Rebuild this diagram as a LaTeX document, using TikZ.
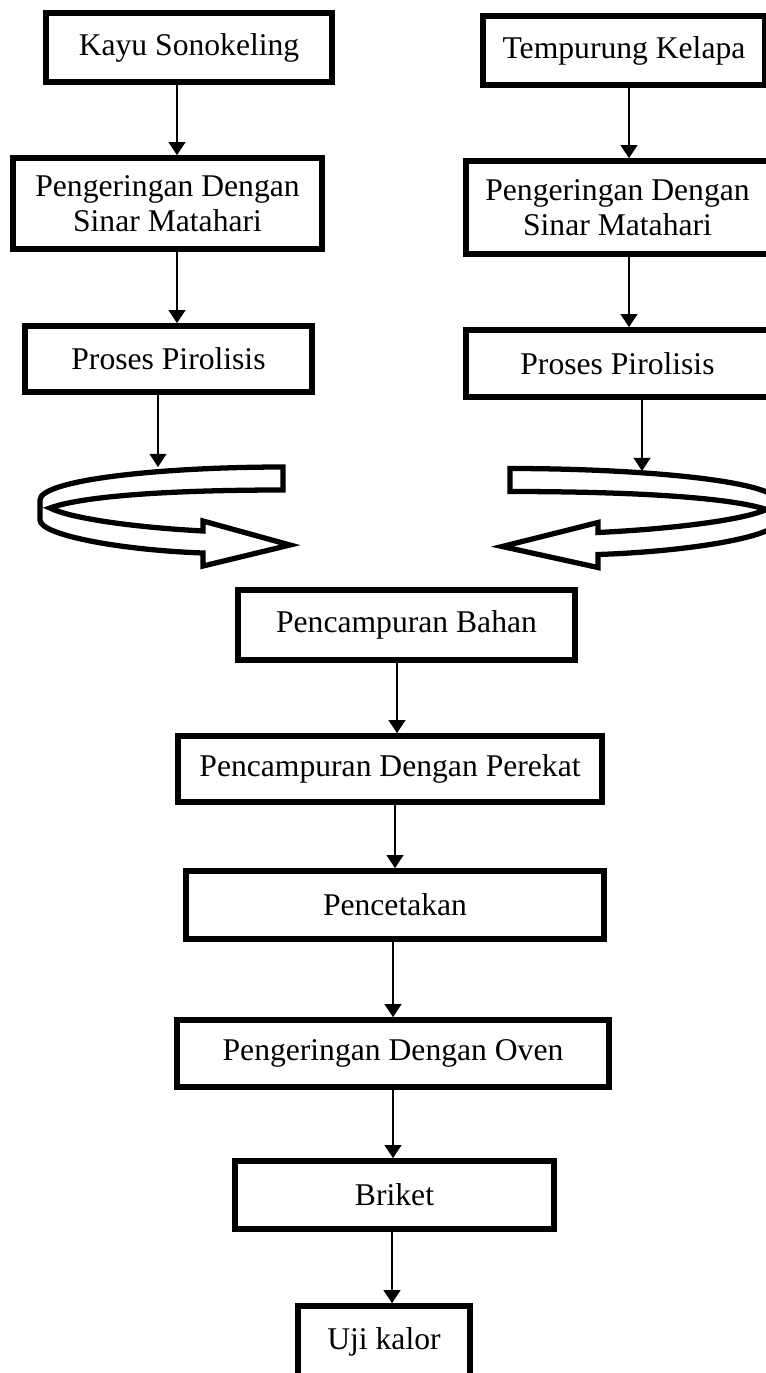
\documentclass[tikz,border=0pt]{standalone}
\usepackage{fontspec}
\setmainfont{Liberation Serif}
\usetikzlibrary{arrows.meta}
\tikzset{
  blok/.style = {rectangle, align=center, inner sep=0pt, draw=black,
    fill=white, line width=3.2pt, font=\fontsize{18}{20}\selectfont},
  panah/.style = {line width=1.3pt, -{Triangle[width=9.5pt,length=7.5pt]}},
  swirl/.pic = {% panah putar 3D
    \draw[line width=3pt, fill=white]
      (283,467) .. controls (160,467) and (40,480) .. (40,500)
      -- (40,520) .. controls (40,535) and (120,550) .. (203,553)
      -- (203,566) -- (290,545) -- (203,521) -- (203,531)
      .. controls (130,527) and (70,518) .. (50,508)
      .. controls (80,497) and (160,490) .. (283,490) -- cycle;
  }
}

\begin{document}
\begin{tikzpicture}[x=0.02cm, y=-0.02cm]
\useasboundingbox (0,0) rectangle (766,1373);
\clip (0,0) rectangle (766,1373);

% kolom kiri
\node [blok, minimum width=5.72cm, minimum height=1.38cm] (kayu) at (189,47.5) {Kayu Sonokeling};
\node [blok, minimum width=6.18cm, minimum height=1.82cm] (pengL) at (167.5,203.5) {Pengeringan Dengan\\Sinar Matahari};
\node [blok, minimum width=5.74cm, minimum height=1.32cm] (pirL) at (168.5,359) {Proses Pirolisis};

% kolom kanan
\node [blok, minimum width=5.64cm, minimum height=1.38cm] (tempR) at (624,50.5) {Tempurung Kelapa};
\node [blok, minimum width=6.06cm, minimum height=1.86cm] (pengR) at (617.5,207.5) {Pengeringan Dengan\\Sinar Matahari};
\node [blok, minimum width=6.06cm, minimum height=1.34cm] (pirR) at (617.5,363.5) {Proses Pirolisis};

% panah putar
\pic at (0,0) {swirl};
\pic [xscale=-1.1] at (821.3,1.5) {swirl};
\coordinate (putarL) at (158,467);
\coordinate (putarR) at (642,471);

% kolom tengah
\node [blok, minimum width=6.74cm, minimum height=1.40cm] (bahan) at (406.5,625) {Pencampuran Bahan};
\node [blok, minimum width=8.48cm, minimum height=1.32cm] (perekat) at (390,769) {Pencampuran Dengan Perekat};
\node [blok, minimum width=8.36cm, minimum height=1.36cm] (cetak) at (395,905) {Pencetakan};
\node [blok, minimum width=8.64cm, minimum height=1.34cm] (oven) at (393,1053.5) {Pengeringan Dengan Oven};
\node [blok, minimum width=6.38cm, minimum height=1.36cm] (briket) at (394.5,1195) {Briket};
\node [blok, minimum width=3.44cm, minimum height=1.44cm] (uji) at (384,1342) {Uji kalor};

% jalur panah
\coordinate (xL) at (177,0);
\coordinate (xR) at (629,0);
\coordinate (x1) at (397,0);
\coordinate (x2) at (395,0);
\coordinate (x3) at (393,0);
\coordinate (x4) at (392,0);

\draw [panah] (kayu.south -| xL) -- (pengL.north -| xL);
\draw [panah] (pengL.south -| xL) -- (pirL.north -| xL);
\draw [panah] (pirL.south -| putarL) -- (putarL);
\draw [panah] (tempR.south -| xR) -- (pengR.north -| xR);
\draw [panah] (pengR.south -| xR) -- (pirR.north -| xR);
\draw [panah] (pirR.south -| putarR) -- (putarR);
\draw [panah] (bahan.south -| x1) -- (perekat.north -| x1);
\draw [panah] (perekat.south -| x2) -- (cetak.north -| x2);
\draw [panah] (cetak.south -| x3) -- (oven.north -| x3);
\draw [panah] (oven.south -| x3) -- (briket.north -| x3);
\draw [panah] (briket.south -| x4) -- (uji.north -| x4);

\end{tikzpicture}
\end{document}
